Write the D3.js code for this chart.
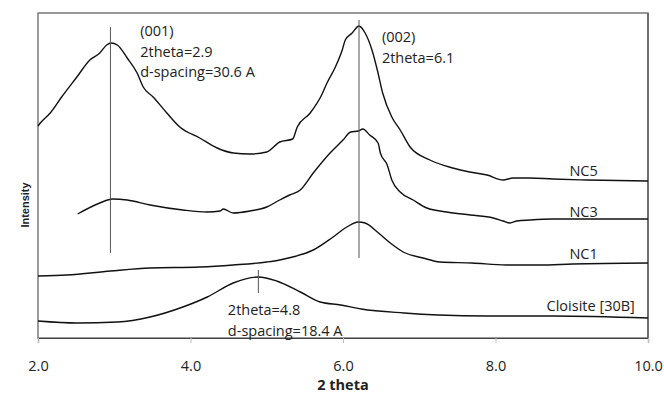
<!DOCTYPE html>
<html>
<head>
<meta charset="utf-8">
<style>
    body { margin: 0; background: #fff; }
    svg { display: block; font-family: 'Open Sans', sans-serif; }
    .lbl { font-size: 14.5px; fill: #222; }
    .tick text { font-size: 14.5px; fill: #222; }
</style>
</head>
<body>
<svg width="664" height="393"></svg>
<script src="https://d3js.org/d3.v7.min.js"></script>
<script>
// intensity (arbitrary units, offset per trace)
const nc5 = [
    [2.0, 212], [2.03, 215], [2.16, 225], [2.31, 241], [2.51, 261], [2.68, 278], [2.81, 285],
    [2.9, 293], [2.96, 295], [3.04, 293], [3.17, 280], [3.3, 265], [3.38, 251], [3.51, 241],
    [3.69, 225], [3.86, 211], [4.12, 200], [4.35, 190], [4.56, 185], [4.78, 184], [5.0, 186],
    [5.17, 196], [5.34, 199], [5.4, 211], [5.57, 225], [5.72, 243], [5.79, 255], [5.9, 271],
    [5.99, 288], [6.03, 298], [6.12, 305], [6.21, 312], [6.29, 305], [6.38, 288], [6.45, 268],
    [6.52, 245], [6.64, 221], [6.75, 208], [6.88, 191], [7.14, 178], [7.44, 170], [7.66, 166],
    [7.89, 163], [8.1, 158], [8.23, 160], [8.45, 160], [8.75, 159], [9.2, 158], [10.0, 157]
];
const nc3 = [
    [2.52, 124], [2.81, 135], [2.98, 139], [3.17, 138], [3.47, 133], [3.9, 128], [4.22, 126],
    [4.39, 127], [4.43, 129], [4.56, 125], [4.78, 127], [5.0, 131], [5.17, 138], [5.3, 143],
    [5.44, 148], [5.61, 165], [5.83, 185], [6.0, 198], [6.1, 206], [6.2, 207], [6.26, 209],
    [6.35, 203], [6.46, 195], [6.49, 185], [6.58, 173], [6.64, 158], [6.75, 146], [6.92, 138],
    [7.1, 130], [7.36, 126], [7.67, 123], [7.97, 120], [8.1, 117], [8.19, 115], [8.28, 117],
    [8.45, 118], [8.75, 119], [10.0, 119]
];
const nc1 = [
    [2.0, 62], [2.38, 63], [2.95, 67], [3.47, 70], [4.12, 71], [4.56, 73], [5.0, 76],
    [5.17, 78], [5.34, 81], [5.61, 88], [5.87, 101], [6.05, 111], [6.2, 116], [6.29, 115],
    [6.45, 106], [6.62, 95], [6.79, 86], [7.05, 80], [7.27, 76], [7.69, 75], [8.14, 73],
    [8.58, 73], [9.01, 74], [10.0, 75]
];
const cloisite = [
    [2.0, 17], [2.51, 15], [3.04, 16], [3.47, 21], [3.9, 31], [4.22, 41], [4.56, 55],
    [4.89, 61], [5.13, 57], [5.44, 46], [5.7, 36], [5.97, 33], [6.24, 29], [6.8, 25],
    [7.25, 23], [7.9, 22], [8.77, 22], [10.0, 20]
];
const series = [
    { name: "NC5", pts: nc5, lx: 8.97, ly: 162 },
    { name: "NC3", pts: nc3, lx: 8.97, ly: 121 },
    { name: "NC1", pts: nc1, lx: 8.97, ly: 79 },
    { name: "Cloisite [30B]", pts: cloisite, lx: 8.67, ly: 27 }
];
const xTicks = [2, 4, 6, 8, 10];

// reference markers: [x, intensity from, intensity to]
const markers = [[2.95, 85, 311], [6.21, 80, 318], [4.89, 45, 68]];

const notes = [
    { x: 3.34, y: 302, lines: ["(001)", "2theta=2.9", "d-spacing=30.6 A"] },
    { x: 6.51, y: 296, lines: ["(002)", "2theta=6.1"] },
    { x: 4.49, y: 23, lines: ["2theta=4.8", "d-spacing=18.4 A"] }
];

const svg = d3.select("svg");
const m = { left: 38, top: 13, right: 648, bottom: 338 };

const x = d3.scaleLinear().domain([2, 10]).range([m.left, m.right]);
const y = d3.scaleLinear().domain([0, 325]).range([m.bottom, m.top]);

// frame
svg.append("rect")
    .attr("x", m.left).attr("y", m.top)
    .attr("width", m.right - m.left).attr("height", m.bottom - m.top)
    .attr("fill", "none").attr("stroke", "#7a7a7a").attr("stroke-width", 1.5);
svg.append("line")
    .attr("x1", m.right).attr("x2", m.right).attr("y1", m.top).attr("y2", m.bottom)
    .attr("stroke", "#6f6f6f").attr("stroke-width", 2);

// x axis
const xAxis = svg.append("g")
    .attr("transform", "translate(0," + m.bottom + ")")
    .call(d3.axisBottom(x).tickValues(xTicks).tickFormat(d3.format(".1f")).tickSize(5).tickPadding(18));
xAxis.select(".domain").attr("stroke", "#444").attr("stroke-width", 1.2);
xAxis.selectAll(".tick line").attr("stroke", "#bbb");
xAxis.selectAll(".tick text").style("font-family", "'Open Sans', sans-serif");

svg.append("text")
    .attr("x", 343).attr("y", 390)
    .attr("text-anchor", "middle")
    .style("font-size", "14.5px").style("font-weight", "bold").attr("fill", "#222")
    .text("2 theta");

svg.append("text")
    .attr("transform", "translate(29,205) rotate(-90)")
    .attr("text-anchor", "middle")
    .style("font-family", "Arial, 'Liberation Sans', sans-serif")
    .style("font-size", "11px").style("font-weight", "bold").attr("fill", "#222")
    .text("Intensity");

// curves
const line = d3.line().x(d => x(d[0])).y(d => y(d[1])).curve(d3.curveMonotoneX);

svg.selectAll(".curve")
    .data(series)
    .join("path")
    .attr("class", "curve")
    .attr("d", d => line(d.pts))
    .attr("fill", "none")
    .attr("stroke", "#111")
    .attr("stroke-width", 1.4);

svg.selectAll(".sname")
    .data(series)
    .join("text")
    .attr("class", "lbl sname")
    .attr("x", d => x(d.lx))
    .attr("y", d => y(d.ly))
    .text(d => d.name);

svg.selectAll(".marker")
    .data(markers)
    .join("line")
    .attr("class", "marker")
    .attr("x1", d => x(d[0])).attr("x2", d => x(d[0]))
    .attr("y1", d => y(d[1])).attr("y2", d => y(d[2]))
    .attr("stroke", "#555").attr("stroke-width", 1);

notes.forEach(n => {
    const t = svg.append("text").attr("class", "lbl")
        .attr("x", x(n.x)).attr("y", y(n.y));
    n.lines.forEach((s, i) => {
        t.append("tspan").attr("x", x(n.x)).attr("dy", i === 0 ? 0 : 20.5).text(s);
    });
});
</script>
</body>
</html>
